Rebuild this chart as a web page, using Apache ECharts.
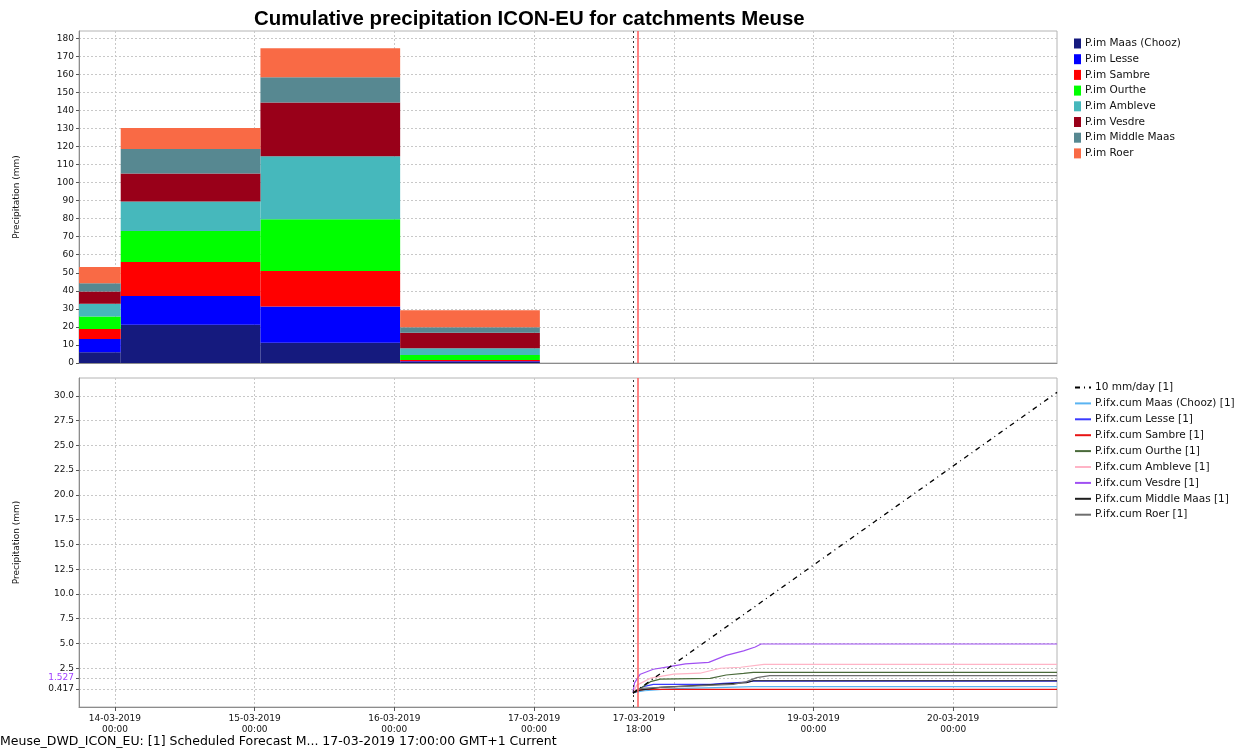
<!DOCTYPE html>
<html>
<head>
<meta charset="utf-8">
<script src="https://cdn.jsdelivr.net/npm/echarts@6/dist/echarts.min.js"></script>
<style>
  html, body { margin: 0; padding: 0; background: #fff; }
  #chart { width: 1239px; height: 749px; }
</style>
</head>
<body>
<div id="chart"></div>
<script>
// daily accumulation blocks (start / end of each interval)
var barStarts = ['2019-03-13 01:00', '2019-03-14 01:00', '2019-03-15 01:00', '2019-03-16 01:00'];
var barEnds   = ['2019-03-14 01:00', '2019-03-15 01:00', '2019-03-16 01:00', '2019-03-17 01:00'];

var imNames  = ['P.im Maas (Chooz)', 'P.im Lesse', 'P.im Sambre', 'P.im Ourthe', 'P.im Ambleve', 'P.im Vesdre', 'P.im Middle Maas', 'P.im Roer'];
var imColors = ['#151a7e', '#0000ff', '#ff0000', '#00ff00', '#46b8bc', '#990019', '#578891', '#f96a45'];
var imMaas       = [5.9, 21.2, 11.2, 0.5];
var imLesse      = [7.4, 16.0, 20.1, 0.5];
var imSambre     = [5.5, 18.8, 19.7, 0.7];
var imOurthe     = [7.0, 17.1, 28.6, 2.8];
var imAmbleve    = [7.0, 16.4, 35.0, 3.7];
var imVesdre     = [6.8, 15.5, 29.8, 8.6];
var imMiddleMaas = [4.6, 13.6, 13.9, 3.0];
var imRoer       = [9.0, 11.6, 16.2, 9.4];
var imValues = [imMaas, imLesse, imSambre, imOurthe, imAmbleve, imVesdre, imMiddleMaas, imRoer];

// cumulative forecast lines
var ref10mm = [['2019-03-17 17:00', 0], ['2019-03-20 17:00', 30], ['2019-03-20 17:50', 30.35]];
var cumMaas = [['2019-03-17 17:00', 0], ['2019-03-17 18:00', 0.15], ['2019-03-17 19:00', 0.23], ['2019-03-17 22:00', 0.37],
  ['2019-03-18 01:30', 0.47], ['2019-03-18 09:00', 0.57], ['2019-03-18 13:30', 0.64], ['2019-03-20 17:50', 0.64]];
var cumLesse = [['2019-03-17 17:00', 0], ['2019-03-17 18:00', 0.4], ['2019-03-17 18:45', 0.64], ['2019-03-17 20:30', 0.88],
  ['2019-03-18 06:15', 0.88], ['2019-03-18 08:30', 0.98], ['2019-03-18 12:30', 1.11], ['2019-03-18 13:40', 1.2], ['2019-03-20 17:50', 1.2]];
var cumSambre = [['2019-03-17 17:00', 0], ['2019-03-17 18:00', 0.3], ['2019-03-17 19:00', 0.37], ['2019-03-20 17:50', 0.37]];
var cumOurthe = [['2019-03-17 17:00', 0], ['2019-03-17 18:15', 0.47], ['2019-03-17 20:00', 1.15], ['2019-03-17 21:40', 1.41],
  ['2019-03-18 06:15', 1.48], ['2019-03-18 09:00', 1.82], ['2019-03-18 12:00', 1.99], ['2019-03-18 13:40', 2.09], ['2019-03-20 17:50', 2.09]];
var cumAmbleve = [['2019-03-17 17:00', 0], ['2019-03-17 17:40', 0.8], ['2019-03-17 20:00', 1.5], ['2019-03-18 00:00', 1.9],
  ['2019-03-18 04:30', 2.0], ['2019-03-18 08:00', 2.5], ['2019-03-18 11:30', 2.6], ['2019-03-18 15:30', 2.9], ['2019-03-20 17:50', 2.9]];
var cumVesdre = [['2019-03-17 17:00', 0.1], ['2019-03-17 17:15', 1.0], ['2019-03-17 17:40', 1.4], ['2019-03-17 18:15', 1.9],
  ['2019-03-17 20:30', 2.4], ['2019-03-17 23:30', 2.7], ['2019-03-18 02:00', 2.95], ['2019-03-18 06:00', 3.1], ['2019-03-18 09:00', 3.8],
  ['2019-03-18 12:00', 4.25], ['2019-03-18 14:00', 4.65], ['2019-03-18 15:00', 4.95], ['2019-03-20 17:50', 4.95]];
var cumMiddleMaas = [['2019-03-17 17:00', 0], ['2019-03-17 18:15', 0.3], ['2019-03-17 21:40', 0.57], ['2019-03-18 12:30', 1.04],
  ['2019-03-18 13:40', 1.24], ['2019-03-20 17:50', 1.24]];
var cumRoer = [['2019-03-17 17:00', 0], ['2019-03-17 18:15', 0.47], ['2019-03-17 21:40', 0.57], ['2019-03-18 10:15', 0.88],
  ['2019-03-18 12:30', 1.15], ['2019-03-18 14:15', 1.55], ['2019-03-18 16:30', 1.75], ['2019-03-20 17:50', 1.75]];

var cumNames  = ['P.ifx.cum Maas (Chooz) [1]', 'P.ifx.cum Lesse [1]', 'P.ifx.cum Sambre [1]', 'P.ifx.cum Ourthe [1]',
  'P.ifx.cum Ambleve [1]', 'P.ifx.cum Vesdre [1]', 'P.ifx.cum Middle Maas [1]', 'P.ifx.cum Roer [1]'];
var cumColors = ['#5ab4f2', '#3a3aff', '#e81414', '#4a6a3a', '#ffb4c6', '#a050f2', '#1e1e1e', '#6e6e6e'];
var cumValues = [cumMaas, cumLesse, cumSambre, cumOurthe, cumAmbleve, cumVesdre, cumMiddleMaas, cumRoer];

// tick labels
var xTickLabels = ['2019-03-14 00:00', '2019-03-15 00:00', '2019-03-16 00:00', '2019-03-17 00:00',
  '2019-03-17 18:00', '2019-03-19 00:00', '2019-03-20 00:00'];
var xGridTimes = ['2019-03-14 00:00', '2019-03-15 00:00', '2019-03-16 00:00', '2019-03-17 00:00',
  '2019-03-18 00:00', '2019-03-19 00:00', '2019-03-20 00:00'];
var topYTicks = [0, 10, 20, 30, 40, 50, 60, 70, 80, 90, 100, 110, 120, 130, 140, 150, 160, 170, 180];
var bottomYTicks = [0.417, 1.527, 2.5, 5, 7.5, 10, 12.5, 15, 17.5, 20, 22.5, 25, 27.5, 30];

var forecastTime = '2019-03-17 17:00';
var nowTime = '2019-03-17 17:52';
var xMin = '2019-03-13 17:50';
var xMax = '2019-03-20 17:50';

function ts(s) { return +new Date(s.replace(' ', 'T') + ':00'); }
function pts(list) { return list.map(function (p) { return [ts(p[0]), p[1]]; }); }

var font = 'DejaVu Sans';
var gridLine = { show: true, lineStyle: { color: '#c8c8c8', type: [2, 2], width: 1 } };
var axisLineStyle = { show: true, onZero: false, lineStyle: { color: '#8c8c8c', width: 1 } };

var chart = echarts.init(document.getElementById('chart'));

function renderBlock(params, api) {
  var p0 = api.coord([api.value(0), api.value(3)]);
  var p1 = api.coord([api.value(1), api.value(2)]);
  var shape = echarts.graphic.clipRectByRect(
    { x: p0[0], y: p0[1], width: p1[0] - p0[0], height: p1[1] - p0[1] },
    { x: params.coordSys.x, y: params.coordSys.y, width: params.coordSys.width, height: params.coordSys.height });
  return shape && { type: 'rect', shape: shape, style: { fill: api.visual('color') } };
}

var series = [];
var base = barStarts.map(function () { return 0; });
imValues.forEach(function (vals, k) {
  var data = vals.map(function (v, i) {
    var item = [ts(barStarts[i]), ts(barEnds[i]), base[i], base[i] + v];
    base[i] += v;
    return item;
  });
  series.push({
    name: imNames[k], type: 'custom', xAxisIndex: 0, yAxisIndex: 0,
    renderItem: renderBlock, itemStyle: { color: imColors[k] },
    encode: { x: [0, 1], y: [2, 3] }, data: data, silent: true
  });
});

function timeMarks() {
  return {
    symbol: 'none', silent: true, label: { show: false },
    data: [
      { xAxis: ts(forecastTime), lineStyle: { color: '#333', type: [2, 3], width: 1 } },
      { xAxis: ts(nowTime), lineStyle: { color: '#ff5a5a', type: 'solid', width: 1.5 } }
    ]
  };
}
series.push({ type: 'line', xAxisIndex: 0, yAxisIndex: 0, data: [], markLine: timeMarks() });

series.push({
  name: '10 mm/day [1]', type: 'line', xAxisIndex: 1, yAxisIndex: 1, symbol: 'none',
  lineStyle: { color: '#000', width: 1.3, type: [5, 4, 1, 4] }, itemStyle: { color: 'rgba(0,0,0,0)', borderWidth: 0 },
  data: pts(ref10mm), markLine: timeMarks(), z: 3
});
cumValues.forEach(function (vals, k) {
  series.push({
    name: cumNames[k], type: 'line', xAxisIndex: 1, yAxisIndex: 1, symbol: 'none',
    lineStyle: { color: cumColors[k], width: 1.2 }, itemStyle: { color: 'rgba(0,0,0,0)', borderWidth: 0 },
    data: pts(vals), z: 2
  });
});

function xAxisDef(idx, showLabels) {
  return {
    type: 'value', gridIndex: idx, min: ts(xMin), max: ts(xMax),
    axisLine: axisLineStyle,
    axisTick: { show: showLabels, length: 4, customValues: xGridTimes.map(ts), lineStyle: { color: '#555' } },
    splitLine: gridLine,
    axisLabel: {
      show: showLabels, customValues: xTickLabels.map(ts),
      fontFamily: font, fontSize: 9, color: '#111', lineHeight: 11, margin: 6,
      formatter: function (v) { return echarts.time.format(v, '{dd}-{MM}-{yyyy}\n{HH}:{mm}', false); }
    }
  };
}

chart.setOption({
  animation: false,
  title: [
    { text: 'Cumulative precipitation ICON-EU for catchments Meuse', left: 249, top: 4,
      textStyle: { fontFamily: 'Liberation Sans', fontWeight: 'bold', fontSize: 20.4, color: '#000' } },
    { text: 'Meuse_DWD_ICON_EU: [1] Scheduled Forecast M... 17-03-2019 17:00:00 GMT+1 Current', left: 0, top: 735,
      padding: 0, textStyle: { fontFamily: font, fontWeight: 'normal', fontSize: 12.5, color: '#000' } }
  ],
  legend: [
    { data: imNames, orient: 'vertical', left: 1069, top: 33, icon: 'rect', itemWidth: 7, itemHeight: 10,
      itemGap: 4.7, selectedMode: false, textStyle: { fontFamily: font, fontSize: 10.5, color: '#111', padding: [0, 0, 0, -1] } },
    { data: ['10 mm/day [1]'].concat(cumNames), orient: 'vertical', left: 1069, top: 377, itemWidth: 16, itemHeight: 10,
      itemGap: 4.9, selectedMode: false, itemStyle: { opacity: 0 },
      textStyle: { fontFamily: font, fontSize: 10.5, color: '#111', padding: [0, 0, 0, -1] } }
  ],
  grid: [
    { left: 79, top: 31, width: 978, height: 332, show: true, borderColor: '#b4b4b4', borderWidth: 1 },
    { left: 79, top: 378, width: 978, height: 329, show: true, borderColor: '#b4b4b4', borderWidth: 1 }
  ],
  xAxis: [xAxisDef(0, false), xAxisDef(1, true)],
  yAxis: [
    {
      type: 'value', gridIndex: 0, min: 0, max: 184,
      name: 'Precipitation (mm)', nameLocation: 'middle', nameGap: 58,
      nameTextStyle: { fontFamily: font, fontSize: 9, color: '#111' },
      axisLine: axisLineStyle,
      axisTick: { show: true, length: 3, customValues: topYTicks, lineStyle: { color: '#555' } },
      splitLine: gridLine,
      axisLabel: { customValues: topYTicks, fontFamily: font, fontSize: 9, color: '#111', margin: 5 }
    },
    {
      type: 'value', gridIndex: 1, min: -1.41, max: 31.8,
      name: 'Precipitation (mm)', nameLocation: 'middle', nameGap: 58,
      nameTextStyle: { fontFamily: font, fontSize: 9, color: '#111' },
      axisLine: axisLineStyle,
      axisTick: { show: true, length: 3, customValues: bottomYTicks, lineStyle: { color: '#555' } },
      splitLine: gridLine,
      axisLabel: {
        customValues: bottomYTicks, fontFamily: font, fontSize: 9, margin: 5,
        color: function (v) { return Math.abs(v - 1.527) < 1e-6 ? '#a040ff' : '#111'; },
        formatter: function (v) {
          return (Math.abs(v - 0.417) < 1e-6 || Math.abs(v - 1.527) < 1e-6) ? v.toFixed(3) : v.toFixed(1);
        }
      }
    }
  ],
  series: series
});
</script>
</body>
</html>
